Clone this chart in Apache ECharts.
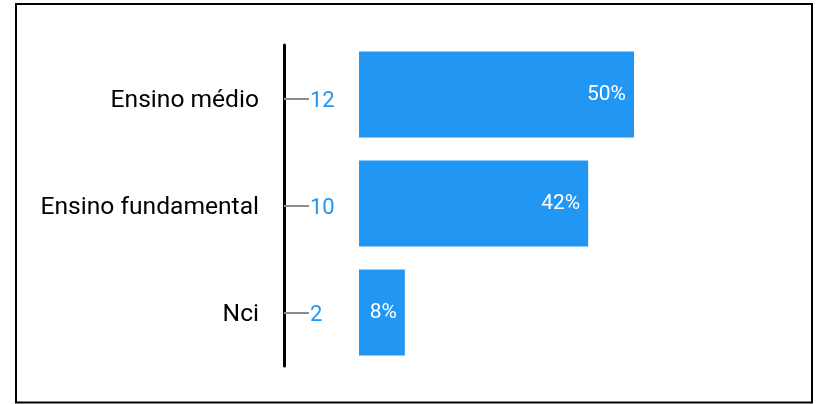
<!DOCTYPE html>
<html>
<head>
<meta charset="utf-8">
<script src="https://cdn.jsdelivr.net/npm/echarts@6/dist/echarts.min.js"></script>
<style>
html,body{margin:0;padding:0;background:#fff;}
#chart{width:824px;height:404px;}
</style>
</head>
<body>
<div id="chart"></div>
<script>
const categories = ['Ensino médio', 'Ensino fundamental', 'Nci'];
const counts = [12, 10, 2];
const total = counts.reduce((a, b) => a + b, 0);
const countLabels = counts.map(String);

const chart = echarts.init(document.getElementById('chart'));
chart.setOption({
  animation: false,
  textStyle: { fontFamily: 'Roboto' },
  graphic: [{
    type: 'rect',
    shape: { x: 16, y: 4, width: 796, height: 398.5 },
    style: { fill: 'none', stroke: '#000', lineWidth: 2 },
    silent: true
  }],
  grid: [
    { left: 359, top: 40, width: 275, height: 327 },
    { left: 284, top: 45, width: 100, height: 321 }
  ],
  xAxis: [
    { gridIndex: 0, type: 'value', min: 0, max: 12, show: false },
    { gridIndex: 1, type: 'value', min: 0, max: 1, show: false }
  ],
  yAxis: [
    { gridIndex: 0, type: 'category', data: categories, inverse: true, show: false },
    {
      gridIndex: 1, type: 'category', data: categories, inverse: true, position: 'left',
      axisLine: { show: true, lineStyle: { color: '#000', width: 3 } },
      axisTick: { show: true, inside: true, alignWithLabel: true, length: 25, lineStyle: { color: '#8c8c8c', width: 2 } },
      axisLabel: { margin: 25, fontSize: 24.6, color: '#000', fontFamily: 'Roboto', verticalAlign: 'top', lineHeight: 5 },
      splitLine: { show: false }
    },
    {
      gridIndex: 1, type: 'category', data: countLabels, inverse: true, position: 'left',
      axisLine: { show: false }, axisTick: { show: false },
      axisLabel: { inside: true, margin: 26, fontSize: 22, color: '#2196F3', fontFamily: 'Roboto', verticalAlign: 'top', lineHeight: 5 },
      splitLine: { show: false }
    }
  ],
  series: [{
    type: 'bar',
    xAxisIndex: 0,
    yAxisIndex: 0,
    data: counts,
    barWidth: 86,
    itemStyle: { color: '#2196F3' },
    label: {
      show: true,
      position: 'insideRight',
      distance: 8,
      color: '#fff',
      fontSize: 21,
      fontFamily: 'Roboto',
      formatter: p => Math.round(p.value / total * 100) + '%'
    }
  }]
});
</script>
</body>
</html>
